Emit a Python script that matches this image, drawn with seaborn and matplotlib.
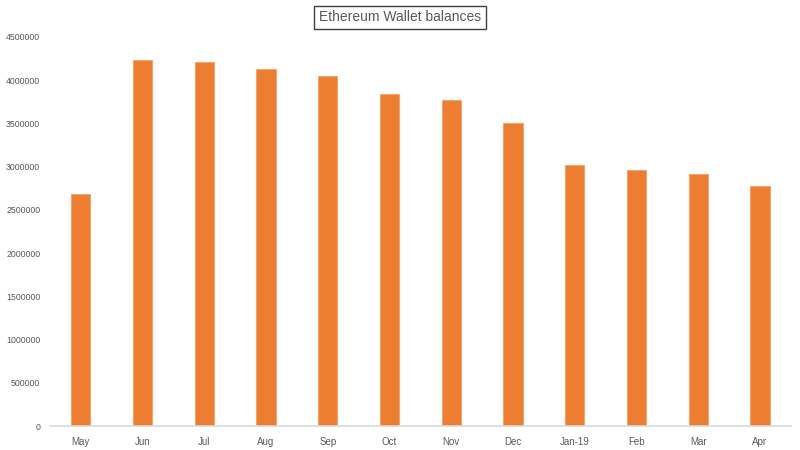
import matplotlib
matplotlib.use("Agg")
import matplotlib.pyplot as plt
import seaborn as sns
import pandas as pd

months = ["May", "Jun", "Jul", "Aug", "Sep", "Oct", "Nov", "Dec", "Jan-19", "Feb", "Mar", "Apr"]
balances = [2688000, 4234000, 4204000, 4130000, 4046000, 3835000, 3769000, 3508000, 3023000, 2965000, 2911000, 2777000]
yticks = [0, 500000, 1000000, 1500000, 2000000, 2500000, 3000000, 3500000, 4000000, 4500000]

sns.set_theme(style="white")
plt.rcParams['font.family'] = ['Liberation Sans', 'DejaVu Sans']

df = pd.DataFrame({"month": months, "balance": balances})

fig = plt.figure(figsize=(8, 4.5), dpi=100)
ax = fig.add_axes([0.0625, 0.0533, 0.926, 0.865])
sns.barplot(data=df, x="month", y="balance", color="#ED7D31", width=0.31,
            edgecolor="#F4A56E", linewidth=0.8, saturation=1, ax=ax)

ax.set_xlim(-0.5, len(months) - 0.5)
ax.set_ylim(0, 4500000)
ax.set_yticks(yticks)
ax.set_yticklabels([str(v) for v in yticks])
ax.set_xlabel("")
ax.set_ylabel("")
for s in ["top", "right", "left"]:
    ax.spines[s].set_visible(False)
ax.spines["bottom"].set_color("#D9D9D9")
ax.spines["bottom"].set_linewidth(1.2)
ax.tick_params(axis="x", length=0, labelsize=7, colors="#595959", pad=8)
ax.tick_params(axis="y", length=0, labelsize=6.3, colors="#595959", pad=7)

fig.text(0.5, 0.962, "Ethereum Wallet balances", ha="center", va="center",
         fontsize=10, color="#595959",
         bbox=dict(boxstyle="square,pad=0.32", facecolor="white", edgecolor="#404040", linewidth=1))

fig.savefig("out.png", dpi=100)
